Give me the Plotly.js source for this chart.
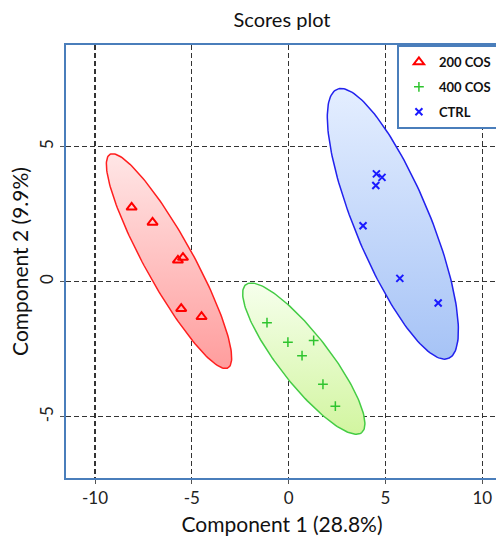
<!DOCTYPE html>
<html>
<head>
<meta charset="utf-8">
<script src="https://cdn.plot.ly/plotly-3.0.1.min.js"></script>
<style>
html,body{margin:0;padding:0;overflow:hidden;background:#fff;}
#chart{width:500px;height:537px;}
</style>
</head>
<body>
<div id="chart"></div>
<script>
// ---- data ----
const groupNames = ["200 COS", "400 COS", "CTRL"];
const x200 = [-8.11, -7.03, -5.72, -5.46, -5.55, -4.50];
const y200 = [2.75, 2.19, 0.79, 0.89, -1.00, -1.30];
const x400 = [-1.12, -0.04, 1.29, 0.69, 1.77, 2.41];
const y400 = [-1.52, -2.24, -2.18, -2.74, -3.80, -4.61];
const xCtrl = [4.53, 4.82, 4.50, 3.84, 5.74, 7.72];
const yCtrl = [3.99, 3.86, 3.56, 2.07, 0.12, -0.79];

// confidence ellipses: centre, major semi-axis vector, minor semi-axis vector (data units)
const ellCx = [-6.18, 0.78, 5.38];
const ellCy = [0.76, -2.85, 2.14];
const ellUx = [3.05, 2.99, 2.88];
const ellUy = [-3.95, -2.74, -4.98];
const ellVx = [1.08, 1.01, 1.78];
const ellVy = [0.44, 0.58, 0.54];

const xTicks = [-10, -5, 0, 5, 10];
const yTicks = [-5, 0, 5];

// ---- styles ----
const lineCols = ["#ff1f1f", "#44cc44", "#2222ee"];
const markCols = ["#ff0000", "#2ec42e", "#1a1aff"];
const fillScales = [
  [[0, "#ff9d9d"], [1, "#ffe6e6"]],
  [[0, "#d2f5a0"], [1, "#f6ffec"]],
  [[0, "#a6c3f6"], [1, "#e4eeff"]]
];
const FONT = "Lato, 'Open Sans', sans-serif";

const traces = [];
for (let g = 0; g < 3; g++) {
  const ex = [], ey = [];
  const N = 180;
  for (let i = 0; i <= N; i++) {
    const t = 2 * Math.PI * i / N;
    ex.push(ellCx[g] + ellUx[g] * Math.cos(t) + ellVx[g] * Math.sin(t));
    ey.push(ellCy[g] + ellUy[g] * Math.cos(t) + ellVy[g] * Math.sin(t));
  }
  traces.push({
    x: ex, y: ey, type: "scatter", mode: "lines", fill: "toself",
    fillgradient: {type: "vertical", colorscale: fillScales[g]},
    line: {color: lineCols[g], width: 1.5}, showlegend: false, hoverinfo: "skip"
  });
}
const xs = [x200, x400, xCtrl], ys = [y200, y400, yCtrl];
const symbols = ["triangle-up-open", "cross-thin-open", "x-thin-open"];
const sizes = [9, 7, 7];
const lw = [2, 1.5, 2];
for (let g = 0; g < 3; g++) {
  traces.push({
    x: xs[g], y: ys[g], type: "scatter", mode: "markers", name: groupNames[g],
    legendgroup: "g" + g,
    marker: {symbol: symbols[g], size: sizes[g], color: markCols[g],
             line: {color: markCols[g], width: lw[g]}}
  });
}

const axisCommon = {
  showgrid: true, gridcolor: "#333", gridwidth: 1.2, griddash: "5px,3px",
  zeroline: false, showline: true, mirror: true, linecolor: "#4a7ebb", linewidth: 2,
  ticks: "outside", ticklen: 4, tickcolor: "#555", tickwidth: 1,
  tickfont: {family: FONT, size: 17, color: "#222"}, tickmode: "array"
};

const layout = {
  width: 500, height: 537,
  margin: {l: 66, r: 2, t: 45, b: 59},
  paper_bgcolor: "#fff", plot_bgcolor: "#fff",
  title: {text: "Scores plot", font: {family: FONT, size: 20, color: "#111"}, x: 0.5, xref: "paper", y: 0.962, yanchor: "middle"},
  xaxis: Object.assign({}, axisCommon, {
    range: [-11.5, 10.81], tickvals: xTicks, ticktext: xTicks.map(String),
    title: {text: "Component 1 (28.8%)", font: {family: FONT, size: 21, color: "#111"}, standoff: 10}
  }),
  yaxis: Object.assign({}, axisCommon, {
    range: [-7.27, 8.76], tickvals: yTicks, ticktext: yTicks.map(String), tickangle: -90,
    title: {text: "Component 2 (9.9%)", font: {family: FONT, size: 21, color: "#111"}, standoff: 2}
  }),
  legend: {
    x: 0.766, xanchor: "left", y: 1, yanchor: "top",
    bordercolor: "#4a7ebb", borderwidth: 2, bgcolor: "#fff",
    tracegroupgap: 5,
    font: {family: FONT, size: 13, color: "#111", weight: "bold"}
  },
  showlegend: true
};

Plotly.newPlot("chart", traces, layout, {displayModeBar: false, staticPlot: true});
</script>
</body>
</html>
